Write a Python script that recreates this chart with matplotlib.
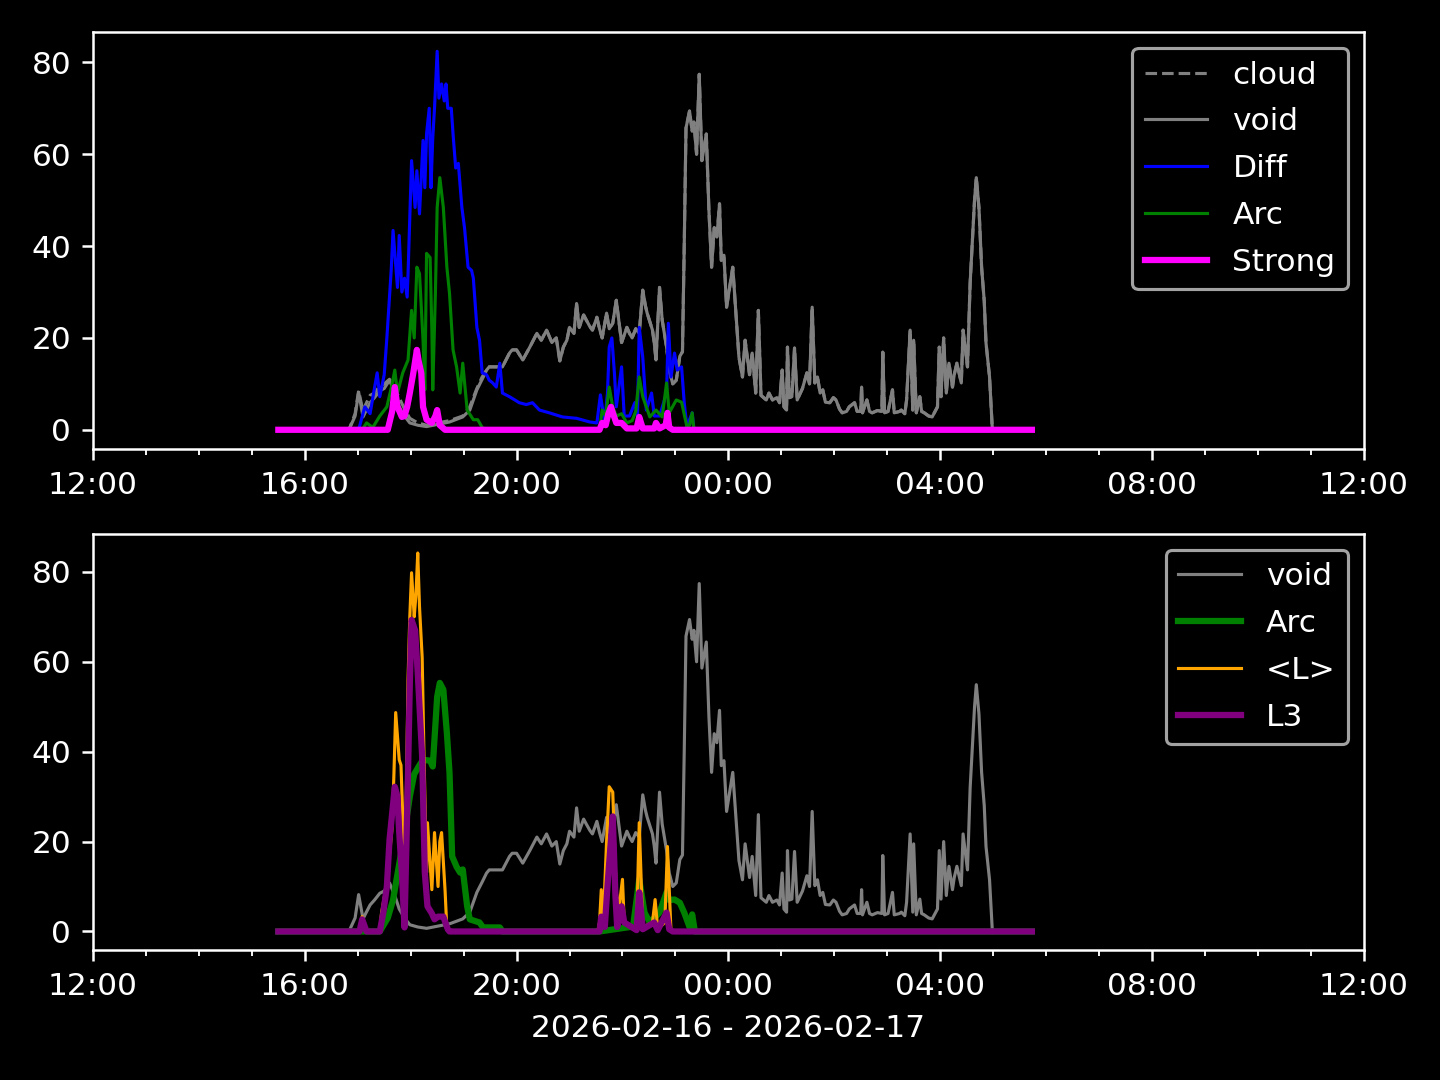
import pandas as pd
import matplotlib
matplotlib.use('Agg')
import matplotlib.pyplot as plt
import matplotlib.dates as mdates

day0 = '2026-02-16'
day1 = '2026-02-17'

void_t = ['15:30', '16:50', '16:57', '17:01', '17:06', '17:09', '17:14', '17:19', '17:25', '17:30',
          '17:36', '17:42', '17:47', '17:53', '17:59', '18:08', '18:18', '18:31', '18:44', '18:59',
          '19:07', '19:15', '19:21', '19:26', '19:29', '19:37', '19:44', '19:52', '19:55', '20:00',
          '20:07', '20:15', '20:23', '20:28', '20:34', '20:40', '20:45', '20:49', '20:53', '20:57',
          '21:00', '21:05', '21:08', '21:11', '21:16', '21:19', '21:23', '21:26', '21:31', '21:34',
          '21:37', '21:42', '21:45', '21:49', '21:53', '21:57', '21:59', '22:05', '22:08', '22:11',
          '22:15', '22:19', '22:23', '22:26', '22:28', '22:34', '22:36', '22:38', '22:42', '22:45',
          '22:50', '22:53', '22:57', '23:01', '23:05', '23:08', '23:10', '23:12', '23:16', '23:19',
          '23:21', '23:24', '23:27', '23:30', '23:33', '23:35', '23:38', '23:41', '23:44', '23:47',
          '23:50', '23:52', '23:55', '23:58', '00:01', '00:05', '00:09', '00:12', '00:16', '00:19',
          '00:24', '00:27', '00:31', '00:34', '00:37', '00:43', '00:46', '00:50', '00:55', '00:58',
          '01:01', '01:03', '01:06', '01:07', '01:09', '01:12', '01:15', '01:18', '01:24', '01:29',
          '01:32', '01:35', '01:38', '01:41', '01:44', '01:47', '01:50', '01:55', '01:59', '02:02',
          '02:06', '02:09', '02:14', '02:17', '02:23', '02:26', '02:30', '02:31', '02:32', '02:37',
          '02:40', '02:43', '02:49', '02:54', '02:55', '02:57', '03:01', '03:06', '03:08', '03:14',
          '03:16', '03:20', '03:22', '03:26', '03:29', '03:30', '03:33', '03:37', '03:39', '03:42',
          '03:47', '03:51', '03:57', '03:59', '04:01', '04:04', '04:07', '04:10', '04:14', '04:16',
          '04:19', '04:24', '04:26', '04:31', '04:34', '04:36', '04:39', '04:41', '04:44', '04:47',
          '04:50', '04:52', '04:56', '04:59', '05:00', '05:44']
void_v = [0, 0, 3, 8.2, 2.8, 4, 5.9, 7, 8.5, 9,
          10.8, 8, 5, 3, 1.5, 1, 0.7, 1.2, 1.7, 2.8,
          4.3, 8.7, 11, 13, 13.7, 13.7, 13.7, 16.7, 17.4, 17.4,
          15.2, 18, 21, 19.5, 21.7, 19, 20, 15, 18, 19.5,
          22.3, 21, 27.5, 22.3, 25, 23.9, 22.5, 21.7, 24.5, 22,
          20, 25.4, 22, 23.2, 28.2, 22, 19, 22.3, 21, 20,
          22, 21, 30.4, 27, 25.4, 21.7, 19, 15.2, 31, 23.9,
          18, 13, 10, 10.8, 16, 17, 40, 65.7, 69.4, 65,
          67, 60, 77.4, 58.6, 62, 64.4, 47.7, 35.4, 44, 42,
          49.2, 36.9, 38, 26.7, 30.4, 35.4, 24, 15.8, 11.5, 19.5,
          12, 16.7, 8, 26, 7.5, 6.5, 8, 6.5, 7, 5.9,
          13, 5, 4.3, 18, 7, 7.2, 17.8, 6.5, 9, 12.4,
          10, 26.7, 10.2, 11.5, 8, 8.7, 6, 5.9, 7, 6.5,
          4.5, 3.7, 4, 5, 5.9, 4, 4, 9.3, 3.7, 6.5,
          4, 3.7, 4.2, 4, 16.9, 3.7, 4, 8.7, 3.7, 4,
          4.3, 3.5, 6.5, 21.7, 4.3, 19.5, 3.7, 7.2, 4, 3.7,
          3, 2.8, 5, 18, 7.2, 20, 8, 14.5, 9.3, 12,
          14.5, 10.2, 21.7, 13.7, 31.9, 39, 50, 54.9, 48.4, 35.4,
          28, 18.9, 11.5, 0.7, 0, 0]

# cloud sits on top of void except for the early part of the evening
cloud_early_t = ['15:30', '16:50', '16:57', '17:01', '17:06', '17:09', '17:14', '17:19', '17:25', '17:30',
                 '17:36', '17:42', '17:47', '17:53', '17:59', '18:08', '18:18', '18:31', '18:44', '18:59',
                 '19:07', '19:15', '19:21', '19:26']
cloud_early_v = [0, 0, 3.5, 8.5, 4, 5.5, 7.5, 8, 9.5, 10,
                 11, 9, 7, 4.5, 2.5, 1.5, 1, 1.5, 2, 3,
                 5, 9, 11.5, 13]

diff_t = ['15:30', '17:00', '17:02', '17:08', '17:14', '17:18', '17:22', '17:25', '17:30', '17:33',
          '17:38', '17:40', '17:45', '17:47', '17:50', '17:53', '17:56', '17:57', '18:01', '18:05',
          '18:07', '18:10', '18:14', '18:16', '18:18', '18:21', '18:23', '18:25', '18:27', '18:30',
          '18:32', '18:35', '18:38', '18:40', '18:42', '18:46', '18:48', '18:51', '18:54', '18:58',
          '19:01', '19:05', '19:09', '19:11', '19:15', '19:18', '19:21', '19:26', '19:29', '19:33',
          '19:37', '19:41', '19:44', '19:52', '19:58', '20:03', '20:11', '20:18', '20:26', '20:37',
          '20:52', '21:08', '21:23', '21:31', '21:35', '21:40', '21:43', '21:45', '21:48', '21:49',
          '21:51', '21:53', '21:59', '22:02', '22:08', '22:14', '22:17', '22:19', '22:23', '22:27',
          '22:33', '22:36', '22:42', '22:50', '22:52', '22:55', '22:59', '23:02', '23:07', '23:10',
          '23:13', '23:19', '23:21', '05:44']
diff_v = [0, 0, 0.7, 5, 3.5, 8, 12.4, 7.2, 12, 20,
          35, 43.4, 31, 42.3, 30, 33, 28.9, 34, 58.6, 48.4,
          56.4, 47, 63, 52.7, 64.4, 70, 52.7, 63.5, 70, 82.4,
          72.2, 75.3, 71.6, 75.3, 70, 70, 64.4, 57, 58, 48.4,
          44, 35.4, 34.7, 33, 22.3, 19.5, 12.4, 12, 10.8, 10.2,
          9.3, 14.5, 8, 7.2, 6.5, 5.9, 5.5, 5.9, 4.3, 3.7,
          2.8, 2.5, 1.7, 1.5, 7.6, 1.5, 8, 18, 20, 17.4,
          12, 5, 13.7, 3, 3, 5.9, 3, 22.3, 15.8, 4.3,
          8, 3, 3, 8, 23.2, 11.5, 16.7, 13, 13.7, 5.9,
          0.7, 3.7, 0, 0]

arc_t = ['15:30', '17:05', '17:10', '17:17', '17:25', '17:33', '17:39', '17:42', '17:45', '17:51',
         '17:57', '18:01', '18:04', '18:07', '18:10', '18:14', '18:16', '18:18', '18:22', '18:24',
         '18:25', '18:28', '18:30', '18:33', '18:37', '18:41', '18:44', '18:48', '18:52', '18:56',
         '18:59', '19:04', '19:11', '19:16', '19:21', '19:26', '21:34', '21:37', '21:41', '21:45',
         '21:49', '21:53', '21:59', '22:05', '22:11', '22:15', '22:19', '22:23', '22:31', '22:38',
         '22:45', '22:50', '22:53', '23:01', '23:07', '23:13', '23:16', '23:19', '23:21', '05:44']
arc_v = [0, 0, 1.5, 0.5, 3, 5, 10, 13, 8, 12.4,
         15.2, 26, 20, 35.4, 34, 19.5, 8.7, 38.4, 37.5, 21.7,
         8.7, 29.7, 48.4, 54.9, 48.4, 35.4, 29.7, 17.4, 13.7, 8,
         14.5, 4.3, 2.2, 2.2, 0.5, 0, 0, 4.3, 3, 9.3,
         5, 3, 3.5, 1.5, 2, 4, 11.5, 7.2, 2.8, 4.3,
         2.8, 10.2, 3.7, 6.5, 6, 0.7, 1, 3.7, 0, 0]

strong_t = ['15:30', '17:34', '17:39', '17:42', '17:45', '17:50', '17:53', '17:56', '17:59', '18:03',
            '18:07', '18:09', '18:12', '18:14', '18:18', '18:24', '18:28', '18:30', '18:33', '18:39',
            '21:34', '21:37', '21:41', '21:44', '21:47', '21:49', '21:53', '21:59', '22:05', '22:16',
            '22:19', '22:23', '22:36', '22:38', '22:42', '22:49', '22:51', '22:53', '22:57', '05:44']
strong_v = [0, 0, 4, 9.3, 5, 2.8, 3, 5, 8, 12.4,
            17.4, 15, 12.4, 5, 2.2, 1.5, 3, 4.3, 1, 0,
            0, 1.5, 1, 3.5, 5, 3.7, 1.5, 1.5, 0.3, 0.3,
            2.8, 0.3, 0.3, 1.5, 0.3, 1, 3.7, 0.5, 0, 0]

arc2_t = ['15:30', '17:25', '17:34', '17:40', '17:47', '17:53', '17:59', '18:04', '18:10', '18:14',
          '18:22', '18:25', '18:30', '18:33', '18:37', '18:41', '18:44', '18:47', '18:52', '18:56',
          '18:59', '19:04', '19:07', '19:18', '19:22', '19:41', '19:44', '21:34', '22:12', '22:19',
          '22:25', '22:31', '22:42', '22:50', '22:53', '22:59', '23:05', '23:10', '23:16', '23:19',
          '23:22', '05:44']
arc2_v = [0, 0, 3, 7, 15, 22, 30, 35, 37, 38.2,
          38, 36.7, 52.2, 55.3, 53.8, 44.2, 35.3, 16.7, 14.4, 13.1,
          13.8, 5.6, 2.7, 2, 0.9, 0.9, 0, 0, 1.1, 11.6,
          4.2, 2, 4.2, 8.7, 7, 7.1, 6.4, 4.2, 1, 3.8,
          0, 0]

lmean_t = ['15:30', '17:02', '17:05', '17:10', '17:25', '17:27', '17:33', '17:39', '17:41', '17:43',
           '17:47', '17:49', '17:51', '17:53', '17:57', '17:59', '18:01', '18:04', '18:06', '18:08',
           '18:10', '18:13', '18:15', '18:18', '18:19', '18:24', '18:27', '18:31', '18:33', '18:35',
           '18:39', '18:41', '18:44', '21:32', '21:34', '21:36', '21:38', '21:42', '21:45', '21:49',
           '21:53', '21:56', '22:00', '22:02', '22:16', '22:19', '22:23', '22:34', '22:37', '22:40',
           '22:48', '22:51', '22:55', '05:44']
lmean_v = [0, 0, 3.3, 0, 0, 4.2, 10.9, 23.3, 35, 48.7,
           38.2, 37, 25.6, 3, 56, 70, 79.8, 70, 75, 84.2,
           72.2, 61, 39.8, 13.1, 24.2, 9.3, 22, 10, 20, 22,
           9, 0.5, 0, 0, 2, 9.3, 1, 20, 32.2, 31,
           8.7, 5, 11.6, 2, 0.5, 24.2, 1, 2, 7.1, 0.5,
           2, 18.9, 0, 0]

l3_t = ['15:30', '17:02', '17:05', '17:10', '17:25', '17:29', '17:33', '17:36', '17:42', '17:45',
        '17:47', '17:50', '17:53', '17:57', '17:59', '18:01', '18:05', '18:08', '18:13', '18:16',
        '18:19', '18:24', '18:27', '18:31', '18:37', '18:42', '18:44', '21:34', '21:36', '21:40',
        '21:43', '21:45', '21:49', '21:52', '21:54', '21:59', '22:02', '22:16', '22:19', '22:23',
        '22:36', '22:40', '22:50', '22:53', '22:57', '05:44']
l3_v = [0, 0, 2.7, 0, 0, 4.2, 10, 20.4, 32.2, 30,
        22, 13.1, 0.9, 35.3, 55, 69.3, 67, 57.5, 38.9, 13.1,
        5.6, 4, 2.7, 3.3, 3.3, 0.5, 0, 0, 3.3, 1,
        10, 15.3, 25.6, 8, 1, 5.6, 2, 0.3, 8.7, 0.5,
        2, 0.3, 4.2, 0.5, 0, 0]


def to_time(hhmm):
    # evening values belong to the 16th, after-midnight values to the 17th
    out = []
    for s in hhmm:
        d = day0 if int(s[:2]) >= 12 else day1
        out.append(pd.Timestamp(d + ' ' + s))
    return out


cut = void_t.index('19:29')
cloud_t = cloud_early_t + void_t[cut:]
cloud_v = cloud_early_v + void_v[cut:]

plt.style.use('dark_background')
fig, (ax1, ax2) = plt.subplots(2, 1, figsize=(6.4, 4.8), dpi=225)

ax1.plot(to_time(cloud_t), cloud_v, color='grey', linestyle='--', linewidth=1, label='cloud')
ax1.plot(to_time(void_t), void_v, color='grey', linewidth=1, label='void')
ax1.plot(to_time(diff_t), diff_v, color='blue', linewidth=1, label='Diff')
ax1.plot(to_time(arc_t), arc_v, color='green', linewidth=1, label='Arc')
ax1.plot(to_time(strong_t), strong_v, color='magenta', linewidth=2, label='Strong')
ax1.legend(loc='upper right', labelspacing=0.57)

ax2.plot(to_time(void_t), void_v, color='grey', linewidth=1, label='void')
ax2.plot(to_time(arc2_t), arc2_v, color='green', linewidth=2, label='Arc')
ax2.plot(to_time(lmean_t), lmean_v, color='orange', linewidth=1, label='<L>')
ax2.plot(to_time(l3_t), l3_v, color='purple', linewidth=2, label='L3')
ax2.legend(loc='upper right', labelspacing=0.57)

for ax in (ax1, ax2):
    ax.set_xlim(pd.Timestamp(day0 + ' 12:00'), pd.Timestamp(day1 + ' 12:00'))
    ax.xaxis.set_major_locator(mdates.HourLocator(byhour=range(0, 24, 4)))
    ax.xaxis.set_minor_locator(mdates.HourLocator())
    ax.xaxis.set_major_formatter(mdates.DateFormatter('%H:%M'))

ax2.set_xlabel(day0 + ' - ' + day1)

plt.subplots_adjust(left=0.0646, right=0.947, top=0.970, bottom=0.120, hspace=0.205)
plt.savefig('out.png')
